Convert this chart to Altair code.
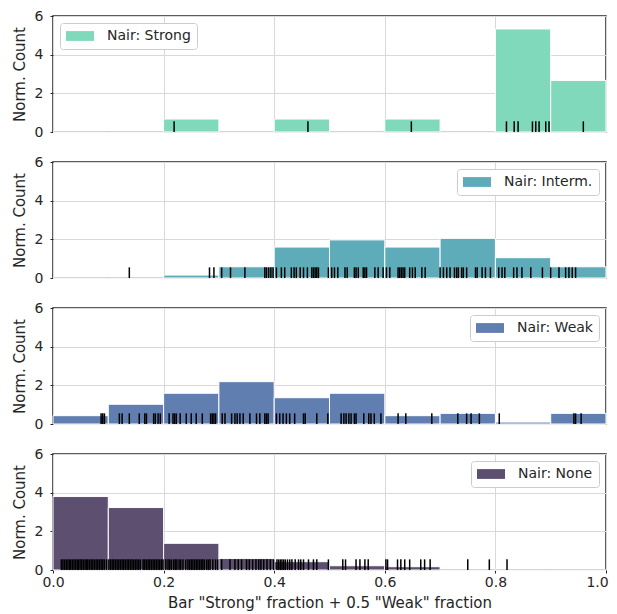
import altair as alt
import pandas as pd

bin_edges = [0.0, 0.1, 0.2, 0.3, 0.4, 0.5, 0.6, 0.7, 0.8, 0.9, 1.0]

series_names = ["Nair: Strong", "Nair: Interm.", "Nair: Weak", "Nair: None"]
series_colors = ["#80d9bb", "#5eabb9", "#607eb0", "#5c4f6f"]
legend_orients = ["top-left", "top-right", "top-right", "top-right"]

strong_heights = [0, 0, 0.67, 0, 0.67, 0, 0.67, 0, 5.33, 2.67]
interm_heights = [0, 0, 0.15, 0.58, 1.6, 1.97, 1.6, 2.05, 1.05, 0.58]
weak_heights = [0.43, 1.02, 1.59, 2.19, 1.36, 1.59, 0.43, 0.55, 0.1, 0.55]
none_heights = [3.8, 3.23, 1.38, 0.6, 0.43, 0.22, 0.17, 0, 0, 0]

strong_rug = [0.219, 0.461, 0.648, 0.820, 0.834, 0.841, 0.867, 0.873, 0.879,
              0.891, 0.897, 0.959]

interm_rug = [0.138, 0.283, 0.291, 0.305, 0.321, 0.347, 0.383, 0.386, 0.390,
              0.394, 0.398, 0.404, 0.413, 0.419, 0.431, 0.436, 0.440, 0.447,
              0.453, 0.460, 0.468, 0.471, 0.474, 0.477, 0.480, 0.498, 0.504,
              0.509, 0.515, 0.528, 0.532, 0.545, 0.548, 0.552, 0.561, 0.564,
              0.567, 0.582, 0.588, 0.597, 0.603, 0.609, 0.624, 0.627, 0.630,
              0.633, 0.636, 0.645, 0.650, 0.655, 0.667, 0.673, 0.700, 0.706,
              0.712, 0.718, 0.726, 0.730, 0.733, 0.739, 0.742, 0.748, 0.764,
              0.767, 0.776, 0.782, 0.791, 0.806, 0.812, 0.817, 0.833, 0.839,
              0.848, 0.864, 0.885, 0.900, 0.915, 0.927, 0.933, 0.939, 0.945]

weak_rug = [0.087, 0.090, 0.093, 0.120, 0.125, 0.138, 0.156, 0.166, 0.169,
            0.182, 0.185, 0.190, 0.194, 0.210, 0.217, 0.220, 0.223, 0.230,
            0.241, 0.250, 0.259, 0.270, 0.285, 0.288, 0.291, 0.294, 0.306,
            0.311, 0.323, 0.329, 0.333, 0.338, 0.344, 0.356, 0.368, 0.374,
            0.383, 0.386, 0.389, 0.404, 0.410, 0.416, 0.422, 0.428, 0.437,
            0.453, 0.456, 0.477, 0.497, 0.521, 0.526, 0.530, 0.535, 0.539,
            0.545, 0.548, 0.562, 0.571, 0.575, 0.581, 0.593, 0.624, 0.638,
            0.685, 0.732, 0.748, 0.756, 0.771, 0.807, 0.942, 0.945, 0.955]

none_rug = [0.015, 0.018, 0.021, 0.024, 0.027, 0.030, 0.032, 0.035, 0.038,
            0.041, 0.044, 0.046, 0.049, 0.052, 0.055, 0.058, 0.061, 0.063,
            0.066, 0.069, 0.072, 0.075, 0.078, 0.081, 0.084, 0.087, 0.090,
            0.093, 0.097, 0.101, 0.104, 0.107, 0.110, 0.113, 0.116, 0.119,
            0.122, 0.125, 0.128, 0.131, 0.134, 0.137, 0.140, 0.143, 0.146,
            0.149, 0.152, 0.155, 0.158, 0.163, 0.166, 0.169, 0.172, 0.175,
            0.178, 0.181, 0.184, 0.187, 0.190, 0.193, 0.196, 0.199, 0.204,
            0.208, 0.211, 0.214, 0.218, 0.221, 0.224, 0.228, 0.231, 0.235,
            0.240, 0.244, 0.247, 0.250, 0.253, 0.256, 0.259, 0.262, 0.265,
            0.268, 0.271, 0.274, 0.278, 0.281, 0.284, 0.289, 0.294, 0.298,
            0.305, 0.320, 0.329, 0.335, 0.341, 0.350, 0.355, 0.361, 0.367,
            0.372, 0.376, 0.381, 0.387, 0.393, 0.399, 0.405, 0.408, 0.411,
            0.414, 0.417, 0.420, 0.424, 0.428, 0.432, 0.438, 0.444, 0.448,
            0.453, 0.462, 0.471, 0.477, 0.498, 0.524, 0.529, 0.548, 0.555,
            0.564, 0.570, 0.602, 0.605, 0.623, 0.629, 0.636, 0.645, 0.665,
            0.672, 0.682, 0.750, 0.789, 0.821]

all_heights = [strong_heights, interm_heights, weak_heights, none_heights]
all_rugs = [strong_rug, interm_rug, weak_rug, none_rug]

x_ticks = [0.0, 0.2, 0.4, 0.6, 0.8, 1.0]
y_ticks = [0, 2, 4, 6]
x_title = 'Bar "Strong" fraction + 0.5 "Weak" fraction'
y_title = "Norm. Count"

PW, PH = 553, 116


def panel(name, color, heights, rug, orient, show_x):
    bars = pd.DataFrame({
        "x0": bin_edges[:-1],
        "x1": bin_edges[1:],
        "h": heights,
        "base": [0] * len(heights),
        "series": [name] * len(heights),
    })
    rugdf = pd.DataFrame({"v": rug})
    xscale = alt.Scale(domain=[0, 1], nice=False, zero=False)
    yscale = alt.Scale(domain=[0, 6], nice=False)
    if show_x:
        xaxis = alt.Axis(
            values=x_ticks, format=".1f", title=x_title,
            tickSize=3, labelPadding=2, titlePadding=6, labelFlush=False,
            labelOffset={"condition": {"test": "datum.value >= 1", "value": -9},
                         "value": 0},
        )
    else:
        xaxis = alt.Axis(values=x_ticks, labels=False, ticks=False, title=None)
    yaxis = alt.Axis(values=y_ticks, title=y_title, tickSize=3,
                     labelPadding=7, titlePadding=7, labelFlush=False,
                     labelOverlap=False)
    b = alt.Chart(bars).mark_rect(stroke="white", strokeWidth=1).encode(
        x=alt.X("x0:Q", scale=xscale, axis=xaxis),
        x2="x1:Q",
        y=alt.Y("h:Q", scale=yscale, axis=yaxis),
        y2="base:Q",
        color=alt.Color(
            "series:N",
            scale=alt.Scale(domain=[name], range=[color]),
            legend=alt.Legend(title=None, orient=orient, offset=7),
        ),
    )
    r = alt.Chart(rugdf).mark_rule(color="black", strokeWidth=1.5).encode(
        x=alt.X("v:Q", scale=xscale, axis=xaxis),
        y=alt.YDatum(0, scale=yscale, axis=yaxis),
        y2=alt.Y2Datum(0.55),
    )
    return alt.layer(b, r).properties(width=PW, height=PH)


panels = []
for i in range(4):
    panels.append(panel(series_names[i], series_colors[i], all_heights[i],
                        all_rugs[i], legend_orients[i], i == 3))

chart = (
    alt.vconcat(*panels, spacing=30, bounds="flush")
    .resolve_scale(color="independent")
    .resolve_legend(color="independent")
    .properties(padding={"left": 3, "top": 0, "right": 0, "bottom": 0})
    .configure_view(stroke="#262626", strokeWidth=1.5)
    .configure_axis(
        gridColor="#d9d9d9",
        gridWidth=1,
        domain=False,
        labelFont="DejaVu Sans",
        labelFontSize=14,
        labelColor="#262626",
        titleFont="DejaVu Sans",
        titleFontSize=15,
        titleFontWeight="normal",
        titleColor="#262626",
        tickColor="#262626",
    )
    .configure_legend(
        labelFont="DejaVu Sans",
        labelFontSize=14,
        labelColor="#262626",
        symbolType="M-2,-0.7H2V0.7H-2Z",
        symbolSize=196,
        symbolOffset=7,
        symbolStrokeWidth=0,
        symbolOpacity=1,
        labelOffset=20,
        padding=6,
        fillColor="white",
        strokeColor="#cccccc",
        cornerRadius=3,
    )
)

chart.save("out.html", embed_options={"renderer": "svg", "actions": False})
